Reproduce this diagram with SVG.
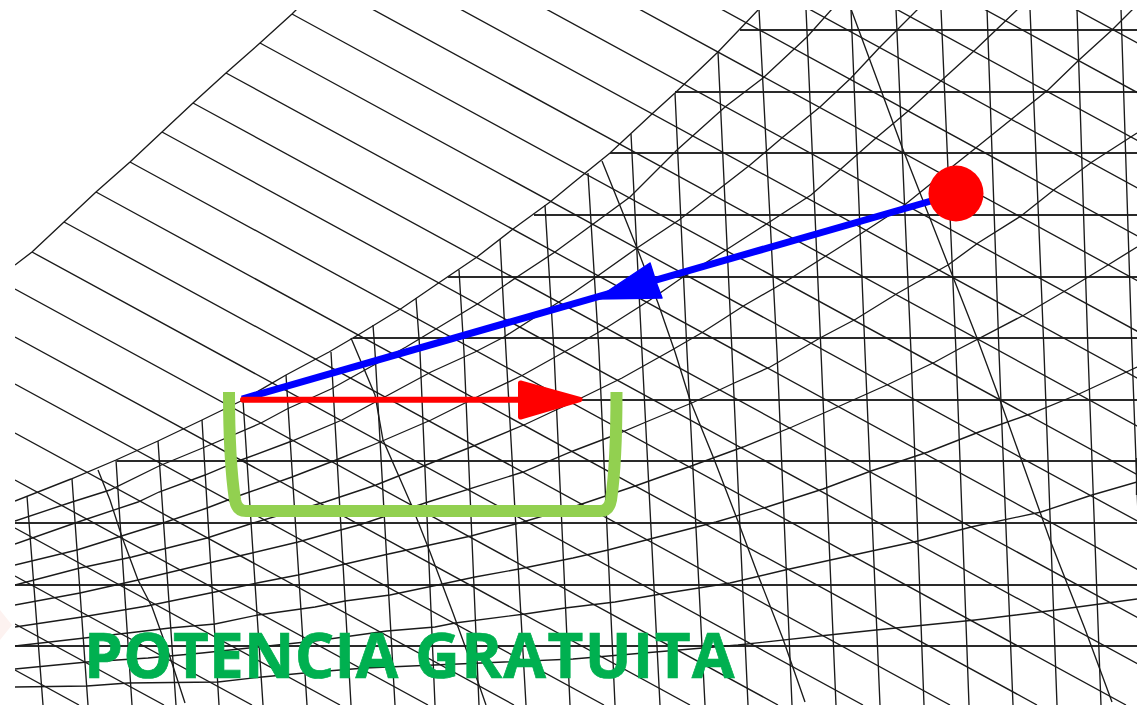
<svg xmlns="http://www.w3.org/2000/svg" width="1146" height="705" viewBox="0 0 1146 705">
<style>
.l{fill:none;stroke:#1a1a1a;stroke-width:1.35}
.h{fill:none;stroke:#2a2a2a;stroke-width:1.8}
.t{font-family:"Open Sans","Noto Sans","Liberation Sans",sans-serif;font-weight:700;font-size:62px;fill:#00b050;stroke:#00b050;stroke-width:.7}
</style>
<defs><clipPath id="c"><rect x="15" y="10" width="1122" height="695"/></clipPath></defs>
<rect width="1146" height="705" fill="#fff"/>
<polygon points="0,610 12,625 0,640" fill="#fdf2f0"/>
<g id="grid" clip-path="url(#c)">
<g id="horizontals" class="h">
<path d="M740 30H1137M675 92H1137M610 153H1137M534 215H1137M448 277H1137M353 338H1137M242 400H1137M117 461H1137M15 523H1137M15 585H1137M15 646H1137"/>
</g>
<g id="rising" class="l">
<path d="M15 265L32 252 64 222 96 192 130 162 162 132 193 103 226 73 260 43 292 14 297 9"/>
<path d="M15 501L71 479 116 460 158 441 202 420 243 400 286 375 329 352 358 335 402 308 440 282 477 257 513 229 550 202 573 183 610 153 653 113 675 93 718 52 759 9"/>
<path d="M15 521L72 502 110 490 159 466 205 447 261 423 287 409 331 389 406 347 479 303 517 277 555 252 630 197 677 150 725 107 763 78 807 37 832 9"/>
<path d="M15 544L75 523 138 502 159 492 205 475 241 460 292 441 342 420 431 372 475 352 504 337 573 293 599 275 637 248 679 220 714 193 750 165 783 137 820 107 851 78 880 47 918 9"/>
<path d="M15 565L77 550 163 523 207 508 241 495 292 477 336 460 380 442 431 420 481 395 523 375 573 347 606 328 650 300 683 277 726 250 768 223 811 195 842 168 876 138 907 112 942 80 975 50 1018 9"/>
<path d="M15 585L80 568 132 557 207 538 253 523 325 502 376 485 426 465 471 447 526 424 573 402 622 378 672 350 703 332 745 305 785 282 829 254 862 233 902 207 938 178 977 147 1013 118 1048 90 1079 60 1112 30 1133 9"/>
<path d="M15 605L80 593 138 580 213 562 252 553 298 542 362 524 428 502 523 472 573 451 615 435 646 422 694 402 732 384 770 367 796 352 820 338 856 319 898 293 948 265 978 243 1021 216 1055 189 1092 162 1137 133"/>
<path d="M15 627L82 617 147 606 215 592 257 583 298 575 384 555 471 536 523 522 573 507 638 485 694 465 743 447 792 427 842 405 889 384 935 362 957 350 1024 315 1070 288 1108 265 1137 247"/>
<path d="M15 646L128 633 170 628 215 624 258 615 315 607 345 601 390 595 433 586 475 577 519 569 573 558 608 550 650 539 716 522 767 507 823 489 871 471 928 452 979 432 1030 414 1079 394 1137 367"/>
<path d="M15 669L87 662 148 658 202 653 315 641 387 631 435 627 455 623 525 614 565 608 615 602 661 594 730 583 785 570 858 554 918 541 971 527 1041 512 1092 495 1137 482"/>
<path d="M15 687L87 686 128 683 218 682 262 677 315 672 365 668 573 659 738 645 829 635 876 630 975 620 1048 611 1137 599"/>
</g>
<g id="descending" class="l">
<path d="M372 9L1649 705M460 9L1737 705M546 9L1823 705M639 9L1916 705M721 9L1998 705M809 9L2086 705M896 9L2173 705M984 9L2261 705M1075 9L2352 705"/>
<path d="M292 14L1560 705M260 43L1475 705M226 73L1386 705M193 103L1298 705M162 132L1213 705M130 162L1126 705M96 192L1037 705M64 222L950 705M32 252L863 705"/>
<path d="M15 289L778 705M15 337L690 705M15 384L604 705M15 433L514 705M15 480L428 705M15 528L340 705M15 576L252 705M15 624L164 705M15 670L79 705"/>
</g>
<g id="verticals" class="l">
<path d="M27 496L43 705M72 479L88 705M116 460L132 705M158 441L176 705M202 420L219 705M243 400L263 705M286 375L307 705M331 352L351 705"/>
<path d="M373 325L375 352 395 705M416 298L420 352 435 705M459 270L464 352 479 705M500 239L506 352 526 705M545 205L554 352 570 705M588 173L599 352 615 705M631 134L642 352 660 705M675 93L687 352 705 705M718 52L732 352 748 705"/>
<path d="M759 9L777 352 792 705M806 9L821 352 836 705M851 9L865 352 880 705M896 9L911 352 924 705M941 9L956 352 969 705M987 9L999 352 1013 705M1030 9L1044 352 1057 705M1077 9L1088 352 1101 705M1121 9L1132 352 1145 705"/>
<path d="M1136.5 458V495"/>
</g>
<g id="steep" class="l">
<path d="M851 9L902 147 953 277 977 338 1000 400 1050 540 1085 629 1112 702"/>
<path d="M602 161L637 248 658 303 675 352 690 400 714 459 739 524 758 575 783 639 805 702"/>
<path d="M351 338L375 395 383 440 411 504 430 552 453 613 478 682 486 705"/>
<path d="M98 470L110 500 122 537 138 580 152 607 170 657 185 703"/>
</g>
</g>
<g id="basin"><path d="M229 392C229 440 232 480 235 500Q237 511 246 511L600 511Q609 511 611 500C614 480 616.5 440 616.5 392" fill="none" stroke="#92d050" stroke-width="12"/></g>
<g id="blue-arrow"><path d="M931 201L242 399" stroke="#0000ff" stroke-width="7" fill="none"/><polygon points="650,263 656,282 662,298 596,299" fill="#0000ff" stroke="#0000ff" stroke-width="1.5" stroke-linejoin="round"/></g>
<g id="red-arrow"><path d="M243 399.7H525" stroke="#ff0000" stroke-width="6" stroke-linecap="round" fill="none"/><polygon points="520.5,383 580,399.5 520.5,417" fill="#ff0000" stroke="#ff0000" stroke-width="5" stroke-linejoin="round"/></g>
<ellipse id="ball" cx="956" cy="193.5" rx="27.5" ry="28" fill="#ff0000"/>
<text id="title" class="t" x="84" y="678"><tspan letter-spacing=".3">POTENCIA </tspan><tspan letter-spacing="1.3">GRATUITA</tspan></text>
</svg>
